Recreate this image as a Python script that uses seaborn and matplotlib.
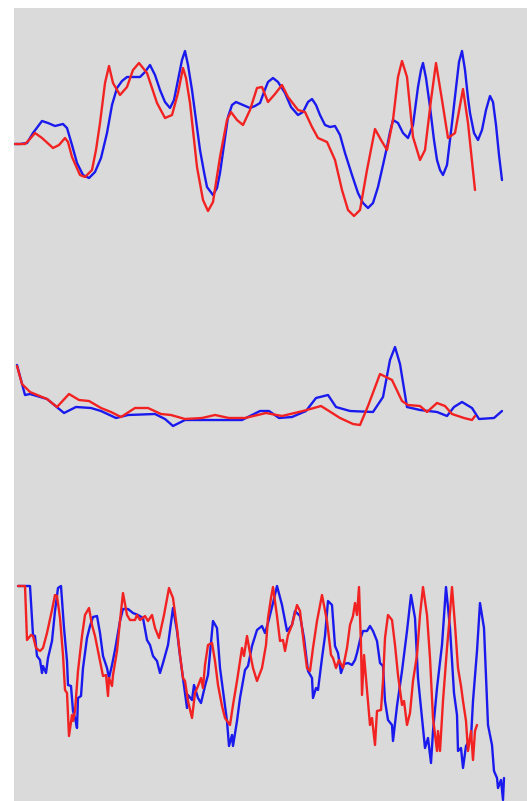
import matplotlib
matplotlib.use("Agg")
import matplotlib.pyplot as plt
import seaborn as sns

# --- panel 1: smooth signals ---
t_blue1 = [15, 20, 27, 33, 42, 48, 55, 63, 67, 72, 77, 83, 89, 95, 101, 107, 112, 117, 122, 127,
           133, 140, 145, 150, 155, 160, 165, 170, 174, 178, 182, 185, 188, 192, 196, 200, 204, 207,
           213, 217, 220, 224, 228, 232, 236, 243, 250, 255, 260, 264, 268, 273, 278, 285, 291, 298,
           303, 308, 312, 316, 320, 325, 330, 335, 340, 345, 352, 358, 363, 368, 373, 378, 383, 387,
           390, 393, 398, 403, 408, 413, 418, 421, 423, 426, 430, 434, 437, 440, 443, 447, 452, 456,
           459, 462, 465, 468, 470, 474, 478, 482, 486, 490, 493, 496, 499, 502]
v_blue1 = [156, 156, 157, 167, 179, 177, 174, 176, 172, 155, 137, 125, 122, 128, 142, 167, 195, 212, 219, 223,
           223, 223, 228, 235, 225, 210, 198, 192, 200, 220, 240, 249, 235, 210, 180, 150, 128, 113,
           105, 112, 127, 155, 183, 195, 198, 195, 192, 194, 197, 208, 218, 222, 218, 207, 193, 185,
           188, 198, 201, 195, 185, 175, 173, 174, 165, 147, 125, 107, 97, 92, 97, 113, 135, 153,
           168, 180, 177, 167, 162, 175, 213, 230, 237, 222, 193, 160, 140, 130, 125, 135, 177, 212,
           238, 249, 230, 202, 187, 167, 160, 170, 190, 204, 198, 175, 145, 120]
t_red1 = [15, 25, 29, 35, 42, 53, 59, 65, 68, 72, 80, 85, 92, 96, 100, 105, 109, 113, 120, 127,
          133, 139, 147, 157, 165, 172, 178, 183, 186, 190, 197, 203, 208, 213, 220, 227, 231, 237,
          243, 250, 257, 262, 268, 275, 282, 288, 298, 305, 312, 318, 327, 335, 342, 348, 354, 360,
          367, 375, 381, 387, 393, 398, 402, 407, 413, 420, 425, 431, 436, 442, 448, 455, 463, 468, 475]
v_red1 = [156, 156, 160, 167, 162, 152, 155, 162, 158, 143, 125, 123, 130, 150, 177, 217, 234, 217, 205, 213,
          230, 237, 227, 197, 182, 185, 207, 232, 222, 197, 133, 100, 89, 98, 143, 180, 188, 180,
          175, 190, 212, 213, 198, 206, 215, 203, 190, 188, 173, 162, 158, 140, 110, 90, 84, 90,
          130, 171, 160, 150, 180, 223, 239, 223, 163, 140, 150, 200, 237, 200, 162, 167, 211, 177, 110]

# --- panel 2: flat signals with one spike ---
t_blue2 = [17, 25, 30, 47, 64, 76, 91, 101, 116, 128, 155, 165, 173, 185, 218, 242, 260, 269, 279, 292,
           306, 316, 328, 336, 350, 373, 383, 390, 395, 400, 407, 420, 437, 447, 454, 462, 472, 479, 494, 502]
v_blue2 = [235, 205, 206, 201, 187, 193, 192, 189, 182, 185, 186, 181, 174, 180, 180, 180, 189, 189, 182, 183,
           189, 202, 205, 193, 189, 188, 203, 240, 253, 236, 193, 190, 188, 184, 193, 198, 192, 181, 182, 189]
t_red2 = [17, 22, 30, 47, 57, 69, 79, 89, 101, 111, 121, 135, 148, 161, 171, 185, 202, 215, 229, 245,
          266, 282, 303, 321, 329, 340, 353, 360, 368, 380, 392, 402, 408, 420, 427, 437, 445, 452, 464, 472, 475]
v_red2 = [234, 216, 208, 201, 193, 206, 200, 199, 192, 188, 183, 192, 192, 186, 185, 181, 182, 185, 182, 182,
          187, 184, 189, 194, 189, 182, 176, 175, 194, 226, 220, 199, 195, 194, 188, 197, 194, 186, 182, 180, 184]

# --- panel 3: noisy signals ---
t_blue3 = [18, 30, 33, 35, 37, 40, 42, 43, 46, 48, 52, 55, 58, 61, 64, 67, 68, 71, 73, 75,
           77, 78, 81, 83, 87, 90, 93, 97, 100, 103, 107, 109, 112, 115, 120, 123, 128, 133, 138, 143,
           147, 150, 153, 157, 160, 163, 168, 173, 177, 180, 183, 187, 188, 192, 194, 198, 201, 205, 208, 213,
           217, 220, 223, 227, 229, 232, 233, 237, 240, 245, 248, 252, 257, 262, 265, 268, 273, 277, 282, 287,
           292, 295, 300, 304, 308, 312, 313, 316, 318, 322, 325, 328, 332, 335, 338, 341, 344, 348, 352, 355,
           357, 360, 363, 367, 370, 373, 377, 380, 383, 385, 388, 392, 393, 397, 402, 407, 411, 415, 418, 422,
           425, 428, 431, 433, 437, 442, 446, 450, 454, 457, 458, 461, 463, 466, 471, 473, 477, 480, 484, 488,
           492, 494, 497, 498, 501, 503, 504]
v_blue3 = [214, 214, 165, 164, 144, 140, 127, 134, 127, 142, 159, 189, 212, 214, 172, 139, 115, 114, 89, 82,
           72, 102, 104, 132, 162, 174, 183, 184, 167, 144, 132, 122, 135, 150, 179, 191, 191, 187, 185, 182,
           160, 155, 144, 139, 127, 137, 155, 192, 169, 144, 122, 92, 105, 100, 115, 102, 97, 114, 125, 179,
           172, 132, 109, 79, 54, 65, 54, 79, 102, 130, 134, 154, 170, 174, 167, 177, 197, 214, 195, 169,
           175, 189, 184, 162, 129, 122, 102, 112, 110, 142, 164, 199, 195, 154, 147, 127, 136, 137, 135, 140,
           147, 160, 169, 169, 174, 169, 159, 137, 134, 99, 80, 75, 59, 94, 129, 169, 205, 182, 122, 82,
           52, 62, 37, 69, 112, 155, 213, 172, 107, 85, 49, 52, 32, 54, 62, 99, 149, 197, 172, 75,
           55, 29, 22, 12, 20, 0, 22]
t_red3 = [18, 25, 27, 31, 33, 36, 40, 43, 47, 52, 55, 57, 60, 63, 65, 67, 69, 72, 73, 75,
          78, 82, 85, 89, 92, 95, 99, 103, 106, 108, 109, 112, 113, 117, 120, 123, 127, 130, 135, 137,
          140, 145, 148, 152, 155, 159, 164, 169, 173, 177, 180, 183, 185, 188, 192, 195, 198, 201, 203, 205,
          208, 212, 215, 218, 222, 225, 230, 233, 237, 239, 242, 244, 247, 250, 253, 257, 262, 266, 268, 271,
          273, 277, 280, 283, 285, 288, 292, 297, 300, 304, 307, 310, 313, 317, 322, 327, 331, 333, 336, 339,
          343, 347, 350, 353, 355, 357, 359, 361, 362, 364, 367, 370, 372, 375, 377, 381, 383, 385, 388, 392,
          395, 398, 402, 404, 407, 410, 413, 417, 420, 423, 427, 430, 433, 437, 438, 440, 443, 447, 449, 452,
          455, 458, 461, 463, 466, 468, 471, 473, 475, 477]
v_red3 = [214, 214, 160, 165, 164, 152, 149, 152, 167, 190, 205, 204, 182, 145, 110, 107, 64, 85, 79, 89,
          129, 164, 185, 192, 175, 164, 144, 124, 125, 104, 122, 114, 125, 149, 179, 207, 185, 180, 180, 185,
          180, 184, 179, 185, 172, 162, 185, 212, 202, 172, 145, 122, 119, 99, 82, 107, 114, 122, 112, 135,
          155, 157, 139, 115, 94, 82, 75, 95, 119, 132, 152, 144, 164, 147, 132, 119, 132, 155, 182, 202,
          213, 184, 159, 160, 149, 165, 175, 195, 189, 155, 132, 129, 152, 179, 205, 179, 145, 142, 132, 140,
          132, 152, 175, 184, 197, 185, 213, 155, 105, 145, 110, 75, 82, 55, 89, 90, 119, 162, 185, 180,
          155, 125, 95, 99, 75, 87, 119, 145, 185, 213, 185, 142, 82, 49, 69, 49, 99, 152, 175, 213,
          175, 132, 114, 99, 79, 49, 69, 40, 69, 75]

panels = [
    (t_blue1, v_blue1, t_red1, v_red1, (28, 292)),
    (t_blue2, v_blue2, t_red2, v_red2, (63, 328)),
    (t_blue3, v_blue3, t_red3, v_red3, (-1, 263)),
]

sns.set_theme(style="white")
fig = plt.figure(figsize=(5.27, 8.01), dpi=100, facecolor="white")

left = 14 / 527
width = 1 - left
# panel rows in pixels (top, bottom)
rows = [(8, 272), (272, 537), (537, 801)]

for (tb, vb, tr, vr, ylim), (top, bot) in zip(panels, rows):
    ax = fig.add_axes([left, (801 - bot) / 801, width, (bot - top) / 801])
    ax.set_facecolor("#dadada")
    sns.lineplot(x=tb, y=vb, ax=ax, color="#1a1aee", linewidth=1.7, estimator=None)
    sns.lineplot(x=tr, y=vr, ax=ax, color="#f22222", linewidth=1.7, estimator=None)
    ax.set_xlim(14, 527)
    ax.set_ylim(*ylim)
    ax.set_xticks([])
    ax.set_yticks([])
    ax.set_xlabel("")
    ax.set_ylabel("")
    for sp in ax.spines.values():
        sp.set_visible(False)

fig.savefig("out.png", dpi=100, facecolor="white")
